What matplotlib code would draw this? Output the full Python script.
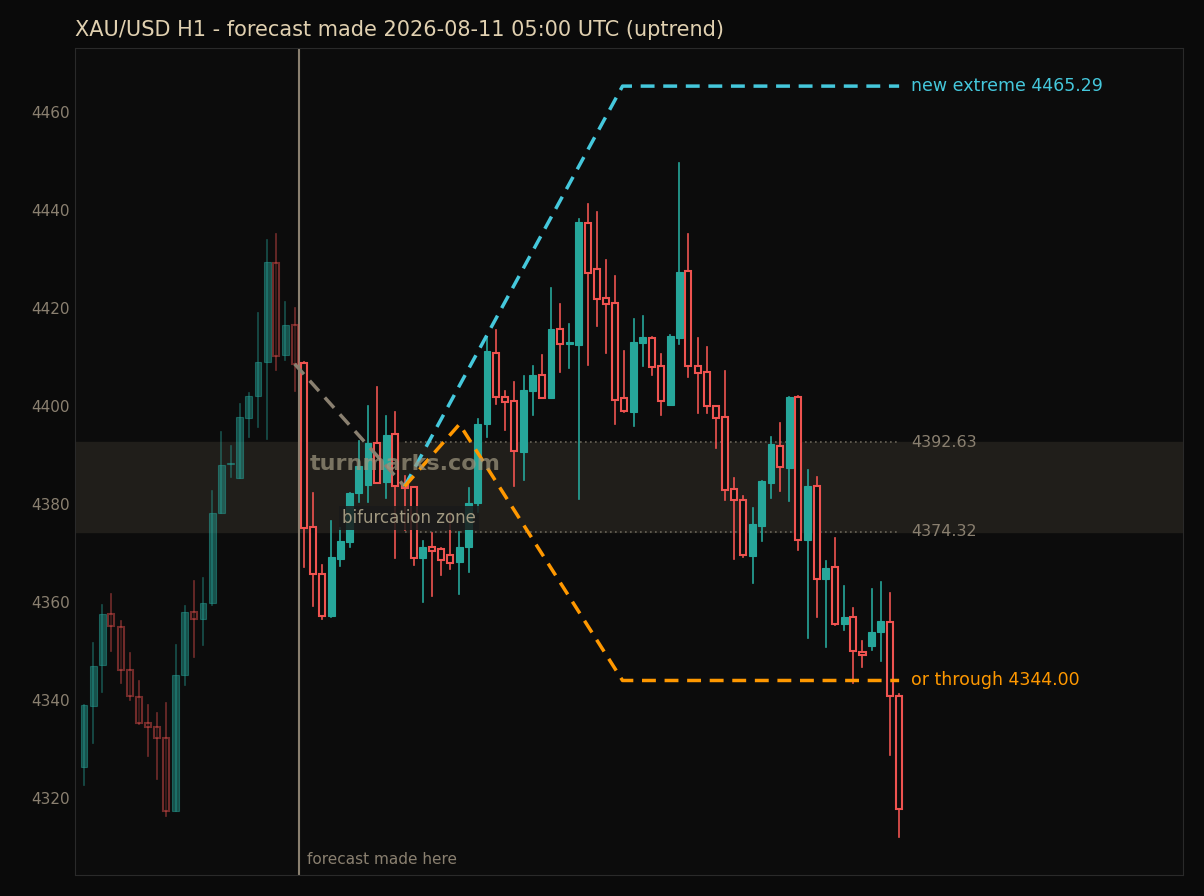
import matplotlib
matplotlib.use("Agg")
import matplotlib.pyplot as plt
from matplotlib.patches import Rectangle

opens = [4326.4,4338.8,4347.1,4357.6,4355.0,4346.2,4340.7,4335.4,4334.6,4332.2,4317.4,4345.1,4358.0,4356.5,4359.9,4378.1,4388.1,4385.4,4397.6,4402.1,4409.0,4429.1,4410.5,4416.5,
         4408.7,4375.4,4365.8,4357.2,4368.8,4372.3,4382.2,4383.9,4392.5,4384.5,4394.2,4383.9,4383.4,4369.0,4371.3,4370.8,4369.6,4368.2,4371.2,4380.3,4396.3,4410.9,4401.9,4401.1,4390.7,4403.0,
         4406.3,4401.6,4415.8,4412.7,4412.4,4437.3,4427.9,4422.0,4421.1,4401.6,4398.8,4412.8,4413.8,4408.2,4400.2,4413.9,4427.6,4408.2,4406.9,4400.1,4397.7,
         4383.0,4380.9,4369.5,4375.6,4384.4,4391.9,4387.4,4401.8,4372.7,4383.7,4364.7,4367.1,4355.5,4356.9,4349.9,4351.1,4353.9,4356.0,4340.9]
closes = [4339.0,4346.9,4357.6,4355.1,4346.2,4340.8,4335.4,4334.6,4332.2,4317.4,4345.1,4358.0,4356.5,4359.9,4378.1,4387.9,4388.3,4397.7,4402.0,4409.0,4429.4,4410.3,4416.5,4408.6,
          4375.2,4365.8,4357.2,4369.1,4372.4,4382.2,4387.8,4392.4,4384.4,4394.0,4383.7,4383.2,4368.9,4371.3,4370.5,4368.6,4367.9,4371.3,4380.3,4396.3,4411.2,4401.8,4400.9,4390.8,4403.3,4406.3,
          4401.6,4415.7,4412.6,4412.8,4437.6,4427.2,4421.8,4420.9,4401.3,4399.0,4413.0,4414.0,4407.9,4401.0,4414.3,4427.3,4408.2,4406.7,4400.1,4397.5,4382.8,
          4380.8,4369.7,4375.9,4384.7,4392.2,4387.5,4401.9,4372.7,4383.7,4364.8,4366.9,4355.6,4356.9,4350.0,4349.2,4353.8,4356.1,4340.8,4317.7]
highs = [4339.0,4351.7,4359.5,4361.7,4356.2,4349.6,4343.9,4339.0,4337.3,4339.4,4351.3,4359.2,4364.3,4365.0,4382.6,4394.7,4391.9,4400.5,4402.6,4418.9,4433.8,4435.1,4421.3,4420.1,
         4408.9,4382.2,4367.5,4376.6,4375.2,4382.2,4392.9,4400.0,4403.8,4398.0,4398.7,4385.7,4383.4,4372.4,4374.0,4371.1,4378.2,4374.2,4383.2,4397.3,4414.1,4415.5,4403.1,4405.0,4406.1,4408.2,
         4410.4,4424.0,4420.8,4416.7,4438.2,4441.2,4439.6,4429.8,4426.5,4411.2,4417.7,4418.4,4414.0,4410.6,4414.5,4449.7,4435.1,4413.8,4412.0,4400.1,4407.1,
         4385.4,4381.7,4379.2,4384.7,4393.6,4396.6,4401.9,4402.0,4386.9,4385.6,4368.4,4373.1,4363.3,4358.8,4352.0,4362.7,4364.1,4361.9,4341.2]
lows = [4322.6,4331.2,4341.6,4350.0,4343.5,4340.0,4335.1,4328.5,4323.8,4316.4,4317.4,4343.0,4348.7,4351.3,4359.5,4378.1,4385.5,4385.4,4393.6,4395.8,4393.3,4407.4,4409.5,4403.1,
        4367.2,4359.2,4356.5,4356.9,4367.3,4371.2,4380.5,4380.5,4384.4,4381.2,4368.9,4374.7,4367.5,4360.1,4361.3,4365.5,4366.7,4361.6,4366.2,4378.4,4393.7,4400.5,4395.2,4383.7,4384.9,4398.2,
        4401.6,4401.6,4407.0,4407.8,4381.1,4408.4,4416.4,4410.9,4396.3,4398.8,4395.9,4408.2,4406.3,4398.2,4400.2,4412.6,4406.0,4398.6,4398.6,4391.5,4380.8,
        4368.8,4369.3,4363.9,4372.5,4381.3,4382.7,4380.6,4370.6,4352.7,4357.0,4350.9,4355.3,4354.3,4343.4,4346.8,4350.3,4348.0,4328.8,4312.1]

n_hist = 24
zone_hi, zone_lo = 4392.63, 4374.32
extreme, trough = 4465.29, 4344.00
start_x, start_y = 23, 4408.6
bif_x, bif_y = 35, 4383.6
orange_peak_x, orange_peak_y = 41, 4396.3
target_x, end_x = 58.8, 89
yticks = [4320, 4340, 4360, 4380, 4400, 4420, 4440, 4460]

BG = "#0c0c0c"
BULL, BEAR = "#26a69a", "#ef5350"
TXT = "#8a8070"

fig = plt.figure(figsize=(12.04, 8.96), dpi=100, facecolor="#0a0a0a")
ax = fig.add_axes([0.0623, 0.0234, 0.9203, 0.923])
ax.set_facecolor(BG)

for i, (o, c, h, l) in enumerate(zip(opens, closes, highs, lows)):
    a = 0.45 if i < n_hist else 1.0
    col = BULL if c >= o else BEAR
    ax.plot([i, i], [l, h], color=col, lw=1.2, alpha=a, zorder=3)
    bot, top = min(o, c), max(o, c)
    if c >= o:
        ax.add_patch(Rectangle((i - 0.37, bot), 0.74, max(top - bot, 0.3), facecolor=col,
                               edgecolor=col, lw=0.8, alpha=a, zorder=4))
    else:
        ax.add_patch(Rectangle((i - 0.33, bot), 0.66, max(top - bot, 0.3), facecolor=BG,
                               edgecolor=col, lw=1.5, alpha=a, zorder=4))

ax.axhspan(zone_lo, zone_hi, color="#201e1a", zorder=1)
ax.hlines([zone_hi, zone_lo], bif_x, end_x, colors="#6a6458", linestyles=(0, (1, 2)), lw=1.2, zorder=2)
ax.axvline(n_hist - 0.5, color="#8a8070", lw=1.5, zorder=2)

ax.plot([start_x, bif_x], [start_y, bif_y], color="#8a8070", ls=(0, (4, 2.5)), lw=2.5, zorder=5)
ax.plot([bif_x, target_x, end_x], [bif_y, extreme, extreme], color="#45c8dc", ls=(0, (4, 2.5)), lw=2.5, zorder=5)
ax.plot([bif_x, orange_peak_x, target_x, end_x], [bif_y, orange_peak_y, trough, trough],
        color="#ff9800", ls=(0, (4, 2.5)), lw=2.5, zorder=5)

ax.text(90.3, extreme, f"new extreme {extreme:.2f}", color="#45c8dc", fontsize=12.5, va="center")
ax.text(90.3, trough, f"or through {trough:.2f}", color="#ff9800", fontsize=12.5, va="center")
ax.text(90.3, zone_hi, f"{zone_hi:.2f}", color=TXT, fontsize=11.5, va="center")
ax.text(90.3, zone_lo, f"{zone_lo:.2f}", color=TXT, fontsize=11.5, va="center")
ax.text(24.6, 4388.2, "turnmarks.com", color="#a09880", alpha=0.7, fontsize=16, fontweight="bold",
        va="center", zorder=6)
ax.text(28.2, 4377.1, "bifurcation zone", color="#a09880", fontsize=12, va="center", zorder=6,
        bbox=dict(facecolor="#1a1a1a", edgecolor="none", alpha=0.85, pad=2))
ax.text(24.3, 4307.5, "forecast made here", color=TXT, fontsize=11, va="center")

ax.set_xlim(-0.98, 120.0)
ax.set_ylim(4304.3, 4473.06)
ax.set_xticks([])
ax.set_yticks(yticks)
ax.tick_params(axis="y", colors=TXT, labelsize=11, length=0)
for s in ax.spines.values():
    s.set_color("#2a2a2a")
fig.text(0.0623, 0.967, "XAU/USD H1 - forecast made 2026-08-11 05:00 UTC (uptrend)", color="#e0d0b0",
         fontsize=15, va="center")
fig.savefig("out.png", facecolor=fig.get_facecolor())
